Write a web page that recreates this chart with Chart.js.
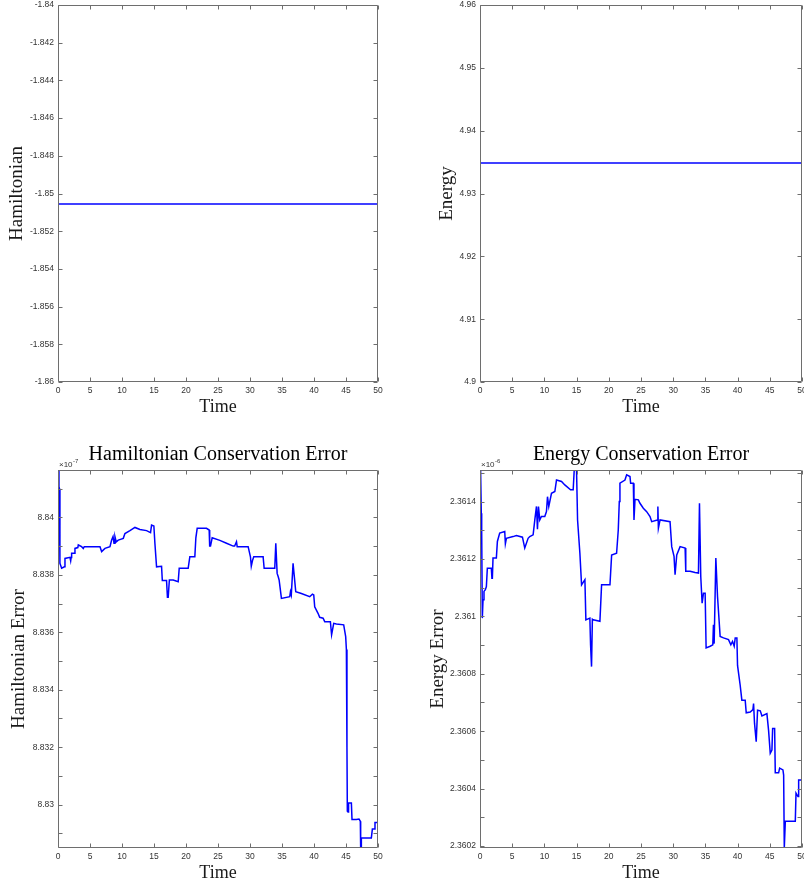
<!DOCTYPE html>
<html>
<head>
<meta charset="utf-8">
<script src="https://cdn.jsdelivr.net/npm/chart.js@4.4.1/dist/chart.umd.min.js"></script>
<style>
  html, body { margin: 0; padding: 0; background: #fff; }
  #page { position: relative; width: 804px; height: 884px; overflow: hidden; }
  .cell { position: absolute; }
</style>
</head>
<body>
<div id="page">
  <div class="cell" style="left:0;top:0;width:402px;height:440px"><canvas id="hamChart"></canvas></div>
  <div class="cell" style="left:402px;top:0;width:402px;height:440px"><canvas id="energyChart"></canvas></div>
  <div class="cell" style="left:0;top:440px;width:402px;height:444px"><canvas id="hamErrChart"></canvas></div>
  <div class="cell" style="left:402px;top:440px;width:402px;height:444px"><canvas id="energyErrChart"></canvas></div>
</div>
<script>
// ---- data ----
const timeSpan = [0, 50];
const hamValue = [-1.85056, -1.85056];
const energyValue = [4.93485, 4.93485];

// Hamiltonian conservation error, values in units of 1e-7
const hamErrTime = [0, 0.15, 0.22, 0.30, 0.57, 1.00, 1.09, 1.87, 1.98, 2.05, 2.13, 2.60, 2.65, 3.10, 3.17, 3.69, 3.95, 4.10,
  6.56, 6.82, 7.34, 8.12, 8.38, 8.60, 8.75, 8.90, 9.10, 9.42, 10.20, 10.46, 11.24, 12.02, 12.80, 13.84, 14.46, 14.62, 14.98,
  15.14, 15.40, 16.18, 16.30, 16.96, 17.10, 17.22, 17.40, 18.00, 18.78, 18.94, 20.34, 20.60, 21.38, 21.54, 21.75, 23.20,
  23.62, 23.70, 23.83, 24.09, 25.29, 26.33, 27.37, 27.60, 27.89, 28.00, 29.71, 30.07, 30.20, 30.39, 30.59, 32.05, 32.21,
  33.87, 34.03, 34.24, 34.40, 34.55, 34.91, 36.21, 36.32, 36.45, 36.73, 36.90, 37.15, 38.03, 39.33, 39.75, 39.96, 40.11,
  40.63, 40.89, 41.42, 41.68, 42.56, 42.75, 43.08, 43.50, 44.64, 44.95, 45.06, 45.15, 45.21, 45.32, 45.40, 45.84, 45.94,
  46.62, 47.03, 47.24, 47.29, 47.35, 47.40, 48.96, 49.12, 49.38, 49.53, 50.00];
const hamErrValue = [8.84165, 8.84107, 8.84100, 8.83840, 8.83823, 8.83828, 8.83857, 8.83861, 8.83849, 8.83860, 8.83875, 8.83875, 8.83892, 8.83895, 8.83904, 8.83898, 8.83892, 8.83898,
  8.83898, 8.83881, 8.83892, 8.83898, 8.83921, 8.83933, 8.83910, 8.83933, 8.83915, 8.83921, 8.83927, 8.83944, 8.83954, 8.83965, 8.83958, 8.83954, 8.83947, 8.83973, 8.83970,
  8.83910, 8.83828, 8.83830, 8.83780, 8.83780, 8.83722, 8.83722, 8.83782, 8.83782, 8.83776, 8.83823, 8.83823, 8.83863, 8.83863, 8.83929, 8.83962, 8.83962,
  8.83956, 8.83900, 8.83900, 8.83929, 8.83920, 8.83910, 8.83900, 8.83900, 8.83915, 8.83898, 8.83898, 8.83863, 8.83830, 8.83850, 8.83863, 8.83863, 8.83823,
  8.83823, 8.83910, 8.83805, 8.83794, 8.83782, 8.83718, 8.83724, 8.83741, 8.83730, 8.83840, 8.83800, 8.83741, 8.83735, 8.83724, 8.83733, 8.83730, 8.83689,
  8.83666, 8.83652, 8.83649, 8.83637, 8.83637, 8.83591, 8.83631, 8.83629, 8.83626, 8.83585, 8.83540, 8.83200, 8.82977, 8.82974, 8.83006, 8.83006, 8.82948,
  8.82948, 8.82950, 8.82942, 8.82849, 8.82849, 8.82884, 8.82884, 8.82915, 8.82915, 8.82938, 8.82938];

// Energy conservation error, values in units of 1e-6
const energyErrTime = [0, 0.10, 0.20, 0.26, 0.36, 0.47, 0.62, 0.83, 0.99, 1.14, 1.76, 1.85, 1.92, 2.02, 2.54, 2.70, 3.06, 3.84, 3.94,
  4.10, 5.13, 5.65, 6.59, 6.95, 7.47, 7.73, 8.25, 8.51, 8.77, 8.92, 9.08, 9.28, 9.54, 10.06, 10.32, 10.48, 10.68, 11.10, 11.62,
  11.88, 12.66, 13.17, 14.06, 14.47, 14.63, 14.99, 15.15, 15.51, 15.77, 16.29, 16.44, 17.06, 17.17, 17.32, 17.45, 17.58, 18.62,
  18.88, 20.18, 20.44, 21.21, 21.47, 21.63, 21.73, 22.51, 22.77, 23.29, 23.39, 23.81, 23.91, 24.07, 24.59, 24.84, 25.36, 25.88,
  26.40, 26.66, 27.54, 27.62, 27.70, 27.96, 29.51, 29.77, 30.13, 30.29, 30.55, 31.07, 31.85, 31.95, 32.62, 33.40, 33.92, 34.08,
  34.28, 34.49, 34.70, 34.96, 35.11, 35.74, 36.15, 36.25, 36.36, 36.62, 36.88, 37.29, 37.81, 38.59, 38.95, 39.21, 39.47, 39.63,
  39.89, 39.99, 40.40, 40.66, 41.18, 41.34, 41.96, 42.38, 42.48, 42.63, 42.89, 43.10, 43.52, 43.78, 44.55, 44.81, 45.07, 45.33,
  45.44, 45.75, 45.85, 46.37, 46.53, 47.04, 47.15, 47.25, 47.41, 48.96, 49.07, 49.38, 49.48, 50.00];
const energyErrValue = [2.361510, 2.361500, 2.361359, 2.361300, 2.360994, 2.361058, 2.361087, 2.361093, 2.361104, 2.361168, 2.361168, 2.361133, 2.361133, 2.361203, 2.361203, 2.361261, 2.361290, 2.361296, 2.361253,
  2.361272, 2.361278, 2.361282, 2.361276, 2.361238, 2.361272, 2.361278, 2.361284, 2.361336, 2.361383, 2.361304, 2.361383, 2.361336, 2.361348, 2.361348, 2.361365, 2.361417, 2.361383, 2.361429, 2.361435,
  2.361475, 2.361470, 2.361458, 2.361441, 2.361441, 2.361510, 2.361510, 2.361336, 2.361220, 2.361110, 2.361128, 2.360988, 2.360994, 2.360900, 2.360825, 2.360990, 2.360988, 2.360983,
  2.361110, 2.361110, 2.361214, 2.361220, 2.361301, 2.361400, 2.361464, 2.361475, 2.361493, 2.361487, 2.361464, 2.361464, 2.361336, 2.361408, 2.361406, 2.361394, 2.361377, 2.361365,
  2.361348, 2.361330, 2.361336, 2.361383, 2.361307, 2.361336, 2.361330, 2.361243, 2.361209, 2.361145, 2.361214, 2.361243, 2.361238, 2.361157, 2.361157, 2.361153, 2.361151, 2.361394,
  2.361139, 2.361046, 2.361081, 2.361081, 2.360890, 2.360896, 2.360901, 2.360971, 2.360905, 2.361203, 2.361070, 2.360930, 2.360925, 2.360919, 2.360901, 2.360913, 2.360896, 2.360925,
  2.360925, 2.360829, 2.360760, 2.360708, 2.360708, 2.360664, 2.360667, 2.360675, 2.360696, 2.360627, 2.360563, 2.360673, 2.360671, 2.360653, 2.360661, 2.360603, 2.360523, 2.360534,
  2.360609, 2.360609, 2.360455, 2.360455, 2.360471, 2.360465, 2.360447, 2.360193, 2.360286, 2.360286, 2.360384, 2.360372, 2.360430, 2.360430];

// ---- tick marks and labels ----
const timeTicks = [0, 5, 10, 15, 20, 25, 30, 35, 40, 45, 50];
const timeTickLabels = ['0', '5', '10', '15', '20', '25', '30', '35', '40', '45', '50'];

const hamTicks = [-1.86, -1.858, -1.856, -1.854, -1.852, -1.85, -1.848, -1.846, -1.844, -1.842, -1.84];
const hamTickLabels = ['-1.86', '-1.858', '-1.856', '-1.854', '-1.852', '-1.85', '-1.848', '-1.846', '-1.844', '-1.842', '-1.84'];

const energyTicks = [4.9, 4.91, 4.92, 4.93, 4.94, 4.95, 4.96];
const energyTickLabels = ['4.9', '4.91', '4.92', '4.93', '4.94', '4.95', '4.96'];

const hamErrTicks = [8.829, 8.830, 8.831, 8.832, 8.833, 8.834, 8.835, 8.836, 8.837, 8.838, 8.839, 8.840, 8.841];
const hamErrTickLabels = ['', '8.83', '', '8.832', '', '8.834', '', '8.836', '', '8.838', '', '8.84', ''];

const energyErrTicks = [2.3602, 2.3603, 2.3604, 2.3605, 2.3606, 2.3607, 2.3608, 2.3609, 2.3610, 2.3611, 2.3612, 2.3613, 2.3614, 2.3615];
const energyErrTickLabels = ['2.3602', '', '2.3604', '', '2.3606', '', '2.3608', '', '2.361', '', '2.3612', '', '2.3614', ''];

// ---- look ----
const serif = '"Liberation Serif", "DejaVu Serif", serif';
const sans = '"Liberation Sans", Arial, sans-serif';
const axisColor = '#6e6e6e';
const tickTextColor = '#333';

// MATLAB-like box, inward ticks on all four sides, exponent note
const matlabAxes = {
  id: 'matlabAxes',
  afterDraw(chart, args, opts) {
    const ctx = chart.ctx;
    const a = chart.chartArea;
    const L = Math.round(a.left) + 0.5, R = Math.round(a.right) - 0.5;
    const T = Math.round(a.top) + 0.5, B = Math.round(a.bottom) - 0.5;
    const len = 4;
    ctx.save();
    ctx.strokeStyle = axisColor;
    ctx.lineWidth = 1;
    ctx.beginPath();
    ctx.rect(L, T, R - L, B - T);
    chart.scales.x.ticks.forEach(t => {
      const px = Math.round(chart.scales.x.getPixelForValue(t.value)) + 0.5;
      ctx.moveTo(px, B); ctx.lineTo(px, B - len);
      ctx.moveTo(px, T); ctx.lineTo(px, T + len);
    });
    chart.scales.y.ticks.forEach(t => {
      const py = Math.round(chart.scales.y.getPixelForValue(t.value)) + 0.5;
      ctx.moveTo(L, py); ctx.lineTo(L + len, py);
      ctx.moveTo(R, py); ctx.lineTo(R - len, py);
    });
    ctx.stroke();
    if (opts.exponent) {
      ctx.fillStyle = tickTextColor;
      ctx.textBaseline = 'alphabetic';
      ctx.textAlign = 'left';
      ctx.font = '8px ' + sans;
      const base = a.top - 3;
      ctx.fillText('\u00d710', a.left + 1, base);
      const w = ctx.measureText('\u00d710').width;
      ctx.font = '6px ' + sans;
      ctx.fillText(opts.exponent, a.left + 1 + w + 0.5, base - 4);
    }
    ctx.restore();
  }
};

function makeChart(id, cfg) {
  const points = cfg.t.map((t, i) => ({ x: t, y: cfg.v[i] }));
  return new Chart(document.getElementById(id), {
    type: 'line',
    data: {
      datasets: [{
        data: points,
        borderColor: '#0000ff',
        borderWidth: 1.5,
        pointRadius: 0,
        fill: false,
        tension: 0
      }]
    },
    options: {
      responsive: true,
      maintainAspectRatio: false,
      animation: false,
      events: [],
      layout: { padding: cfg.padding },
      plugins: {
        legend: { display: false },
        tooltip: { enabled: false },
        title: cfg.title ? {
          display: true,
          text: cfg.title,
          fullSize: false,
          color: '#000',
          font: { family: serif, size: 20, weight: 'normal', lineHeight: 1.2 },
          padding: { top: 3, bottom: 3 }
        } : { display: false },
        matlabAxes: { exponent: cfg.exponent }
      },
      scales: {
        x: {
          type: 'linear',
          min: 0,
          max: 50,
          afterBuildTicks: s => { s.ticks = timeTicks.map(v => ({ value: v })); },
          // fixed height, and let the end labels hang over the edge like MATLAB does
          afterFit: s => { s.height = cfg.xHeight; s.paddingLeft = 0; s.paddingRight = 0; },
          ticks: {
            autoSkip: false,
            maxRotation: 0,
            padding: 4,
            color: tickTextColor,
            font: { family: sans, size: 8.5 },
            callback: (v, i) => timeTickLabels[i]
          },
          grid: { display: false, drawTicks: false },
          border: { display: false },
          title: {
            display: true,
            text: 'Time',
            color: '#1a1a1a',
            font: { family: serif, size: 18, lineHeight: 1.2 },
            padding: { top: 0, bottom: cfg.xTitlePad }
          }
        },
        y: {
          type: 'linear',
          min: cfg.yMin,
          max: cfg.yMax,
          afterBuildTicks: s => { s.ticks = cfg.yTicks.map(v => ({ value: v })); },
          afterFit: s => { s.width = cfg.yWidth; s.paddingTop = 0; s.paddingBottom = 0; },
          ticks: {
            autoSkip: false,
            padding: 4,
            color: tickTextColor,
            font: { family: sans, size: 8.5 },
            callback: (v, i) => cfg.yLabels[i]
          },
          grid: { display: false, drawTicks: false },
          border: { display: false },
          title: {
            display: true,
            text: cfg.yTitle,
            color: '#1a1a1a',
            font: { family: serif, size: 19, lineHeight: 1.2 },
            padding: { top: cfg.yTitlePad, bottom: 0 }
          }
        }
      }
    },
    plugins: [matlabAxes]
  });
}

makeChart('hamChart', {
  t: timeSpan, v: hamValue,
  yMin: -1.86, yMax: -1.84, yTicks: hamTicks, yLabels: hamTickLabels,
  yTitle: 'Hamiltonian', yTitlePad: 6, yWidth: 58,
  xHeight: 58, xTitlePad: 22,
  padding: { top: 5, right: 24, bottom: 0, left: 0 }
});

makeChart('energyChart', {
  t: timeSpan, v: energyValue,
  yMin: 4.9, yMax: 4.96, yTicks: energyTicks, yLabels: energyTickLabels,
  yTitle: 'Energy', yTitlePad: 34, yWidth: 78,
  xHeight: 58, xTitlePad: 22,
  padding: { top: 5, right: 2, bottom: 0, left: 0 }
});

makeChart('hamErrChart', {
  t: hamErrTime, v: hamErrValue,
  yMin: 8.82849, yMax: 8.84165, yTicks: hamErrTicks, yLabels: hamErrTickLabels,
  yTitle: 'Hamiltonian Error', yTitlePad: 8, yWidth: 58,
  xHeight: 36, xTitlePad: 0,
  title: 'Hamiltonian Conservation Error', exponent: '-7',
  padding: { top: 0, right: 24, bottom: 0, left: 0 }
});

makeChart('energyErrChart', {
  t: energyErrTime, v: energyErrValue,
  yMin: 2.360193, yMax: 2.36151, yTicks: energyErrTicks, yLabels: energyErrTickLabels,
  yTitle: 'Energy Error', yTitlePad: 25, yWidth: 78,
  xHeight: 36, xTitlePad: 0,
  title: 'Energy Conservation Error', exponent: '-6',
  padding: { top: 0, right: 2, bottom: 0, left: 0 }
});
</script>
</body>
</html>
